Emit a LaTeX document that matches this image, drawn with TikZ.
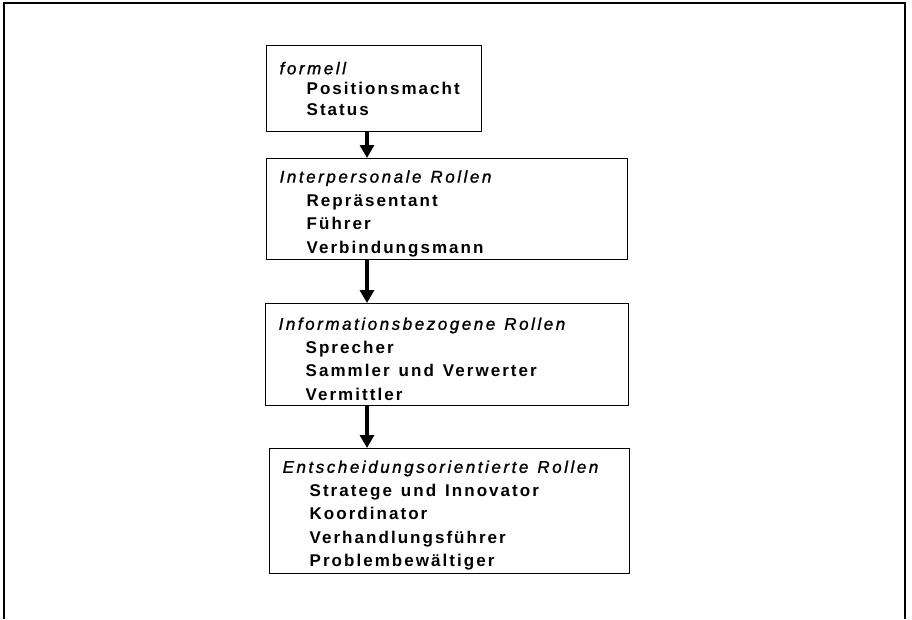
\documentclass[tikz,border=0pt]{standalone}
\usepackage{fontspec}
\setmainfont{Liberation Sans}[LetterSpace=15,FakeBold=1.2]
\newfontfamily\itemfont{Liberation Sans}[LetterSpace=12,UprightFont=*-Bold]
\usetikzlibrary{arrows.meta}
\newcommand\rolleitem[1]{\\\hspace*{27pt}#1}
\newcommand\downstrut{\rule{0pt}{21pt}}
\newcommand\wsp{\spaceskip=9pt\relax}
\begin{document}
\begin{tikzpicture}[x=1pt,y=-1pt,
  box/.style={draw, line width=1.3pt, anchor=north west, inner xsep=13pt, inner ysep=0pt,
    align=left, font=\fontsize{17}{23.5}\selectfont},
  arr/.style={line width=3.2pt, -{Triangle[width=14pt,length=13pt]}},
  frame/.style={line width=1.5pt},
  frametop/.style={line width=2.4pt}]
\useasboundingbox (0,0) rectangle (912,619);
\draw[frame] (4,619) -- (4,3);
\draw[frame] (905,3) -- (905,619);
\draw[frametop] (3.25,3) -- (905.75,3);

\node[box, text width=189pt, minimum width=215pt, minimum height=86pt,
      font=\fontsize{17}{20.5}\selectfont] (b1) at (266,45)
  {\wsp\textit{formell}\itemfont\rolleitem{Positionsmacht}\rolleitem{Status}};
\node[box, text width=335pt, minimum width=361pt, minimum height=101pt] (b2) at (266,158)
  {\wsp\downstrut\textit{Interpersonale Rollen}\itemfont\rolleitem{Repräsentant}\rolleitem{Führer}\rolleitem{Verbindungsmann}};
\node[box, text width=337pt, minimum width=363pt, minimum height=102pt] (b3) at (265,303)
  {\wsp\downstrut\textit{Informationsbezogene Rollen}\itemfont\rolleitem{Sprecher}\rolleitem{Sammler und Verwerter}\rolleitem{Vermittler}};
\node[box, text width=334pt, minimum width=360pt, minimum height=125pt] (b4) at (269,448)
  {\wsp\downstrut\textit{Entscheidungsorientierte Rollen}\itemfont\rolleitem{Stratege und Innovator}\rolleitem{Koordinator}\rolleitem{Verhandlungsführer}\rolleitem{Problembewältiger}};

\coordinate (ax) at (367,0);
\draw[arr] (b1.south -| ax) -- (b2.north -| ax);
\draw[arr] (b2.south -| ax) -- (b3.north -| ax);
\draw[arr] (b3.south -| ax) -- (b4.north -| ax);
\end{tikzpicture}
\end{document}
